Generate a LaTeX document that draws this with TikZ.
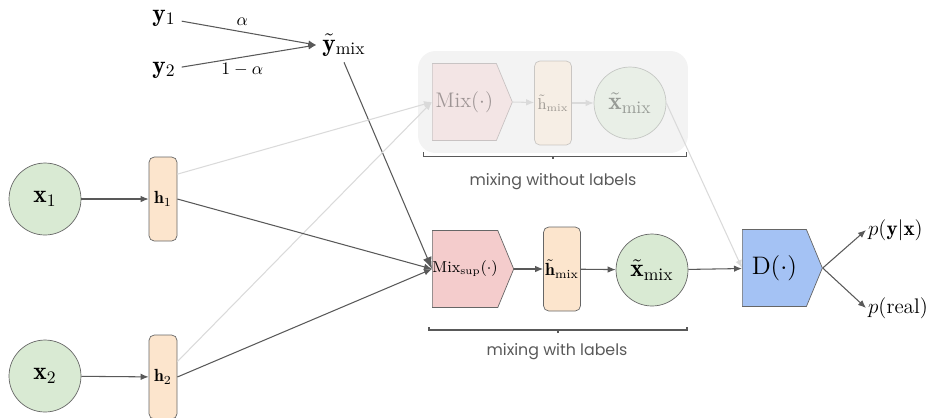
\documentclass[tikz,border=0pt]{standalone}
\usepackage{amsmath}
\usepackage{fontspec}
\setsansfont{Poppins}
\usepackage{tikz}
\usetikzlibrary{arrows.meta, shapes.symbols, calc}
\definecolor{xGreen}{HTML}{D9EAD3}
\definecolor{hOrange}{HTML}{FCE5CD}
\definecolor{mixPink}{HTML}{F4CCCC}
\definecolor{dBlue}{HTML}{A4C2F4}
\definecolor{nodeGray}{HTML}{666666}
\definecolor{lineGray}{HTML}{595959}
\definecolor{boxGray}{HTML}{F3F3F3}
\newcommand{\mixArrow}{{Latex[length=1.6mm, width=1.3mm]}}

\begin{document}
\begin{tikzpicture}[x=0.02cm, y=-0.02cm, font=\sffamily,
	latent/.style={circle, draw=nodeGray, fill=xGreen, minimum size=1.44cm, inner sep=0pt, font=\Large},
	hidden/.style={rectangle, rounded corners=3pt, draw=nodeGray, fill=hOrange, minimum width=0.56cm, minimum height=1.68cm, inner sep=0pt},
	block/.style={signal, signal to=east, signal pointer angle=135, draw=nodeGray, minimum width=1.6cm, minimum height=1.54cm, inner sep=0pt, anchor=west},
	faded/.style={draw opacity=0.3, fill opacity=0.35, text opacity=0.35},
	conn/.style={draw=lineGray, line width=0.6pt, -\mixArrow},
	ghost/.style={draw=lineGray!22, line width=0.6pt, -\mixArrow},
	bracket/.style={draw=lineGray, line width=0.6pt},
	caption/.style={text=lineGray, font=\sffamily\small}]
	\useasboundingbox (0,0) rectangle (932,417);

	% inputs
	\node[latent] (x1) at (45,199) {$\mathbf{x}_1$};
	\node[hidden] (h1) at (163,199) {$\mathbf{h}_1$};
	\node[latent] (x2) at (45,376) {$\mathbf{x}_2$};
	\node[hidden] (h2) at (163,377) {$\mathbf{h}_2$};
	\node[font=\Large] (y1) at (164,18) {$\mathbf{y}_1$};
	\node[font=\Large] (y2) at (164,70) {$\mathbf{y}_2$};
	\node[font=\Large] (ymix) at (344,45) {$\tilde{\mathbf{y}}_{\mathrm{mix}}$};

	% mixing without labels
	\node[fill=boxGray, rounded corners=10pt, minimum width=5.4cm, minimum height=2.04cm] (unsup) at (553,102) {};
	\node[block, faded, fill=mixPink, font=\large] (mix) at (432,102) {$\mathrm{Mix}(\cdot)$};
	\node[hidden, faded, minimum width=0.74cm, font=\small] (hmixu) at (553,103) {$\tilde{\mathrm{h}}_{\mathrm{mix}}$};
	\node[latent, faded] (xmixu) at (630,103) {$\tilde{\mathbf{x}}_{\mathrm{mix}}$};

	% mixing with labels
	\node[block, fill=mixPink, font=\small] (msup) at (432,269) {$\mathrm{Mix}_{\mathrm{sup}}(\cdot)$};
	\node[hidden, minimum width=0.74cm] (hmix) at (562,269) {$\tilde{\mathbf{h}}_{\mathrm{mix}}$};
	\node[latent] (xmix) at (652,270) {$\tilde{\mathbf{x}}_{\mathrm{mix}}$};
	\node[block, fill=dBlue, font=\Large] (disc) at (742,268) {$\mathrm{D}(\cdot)$};
	\node[anchor=west, font=\large, inner sep=1pt] (pyx) at (866,230) {$p(\mathbf{y}|\mathbf{x})$};
	\node[anchor=west, font=\large, inner sep=1pt] (preal) at (866,308) {$p(\mathrm{real})$};

	% label mixing
	\draw[conn] (y1) -- (ymix.west) node[pos=0.45, above] {$\alpha$};
	\draw[conn] (y2) -- (ymix.west) node[pos=0.45, below] {$1-\alpha$};
	\draw[draw=lineGray, line width=0.6pt, -{Latex[length=2.4mm, width=1.8mm]}] (ymix.south) -- (msup.west);

	\draw[conn] (x1) -- (h1);
	\draw[conn] (x2) -- (h2);
	\draw[ghost] (h1.60) -- (mix.west);
	\draw[ghost] (h2.47) -- (mix.west);
	\draw[conn] (h1.east) -- (msup.west);
	\draw[conn] (h2.east) -- (msup.west);

	\draw[ghost] (mix.east) -- (hmixu);
	\draw[ghost] (hmixu) -- (xmixu);
	\draw[ghost] (xmixu.east) -- (disc.west);
	\draw[conn] (msup.east) -- (hmix);
	\draw[conn] (hmix) -- (xmix);
	\draw[conn] (xmix) -- (disc);
	\draw[conn] (disc.east) -- (pyx.west);
	\draw[conn] (disc.east) -- (preal.west);

	% brackets
	\draw[bracket] ($(unsup.south west)+(6,-1)$) -- ++(0,4) -| ($(unsup.south east)+(-2,-1)$);
	\draw[bracket] ($(unsup.south)+(0,3)$) -- ++(0,3);
	\node[caption] (unsuplbl) at (553,182) {mixing without labels};
	\draw[bracket] (429,327) -- (429,330) -| (687,327);
	\draw[bracket] (558,330) -- (558,333);
	\node[caption] (suplbl) at (557,352) {mixing with labels};
\end{tikzpicture}
\end{document}
